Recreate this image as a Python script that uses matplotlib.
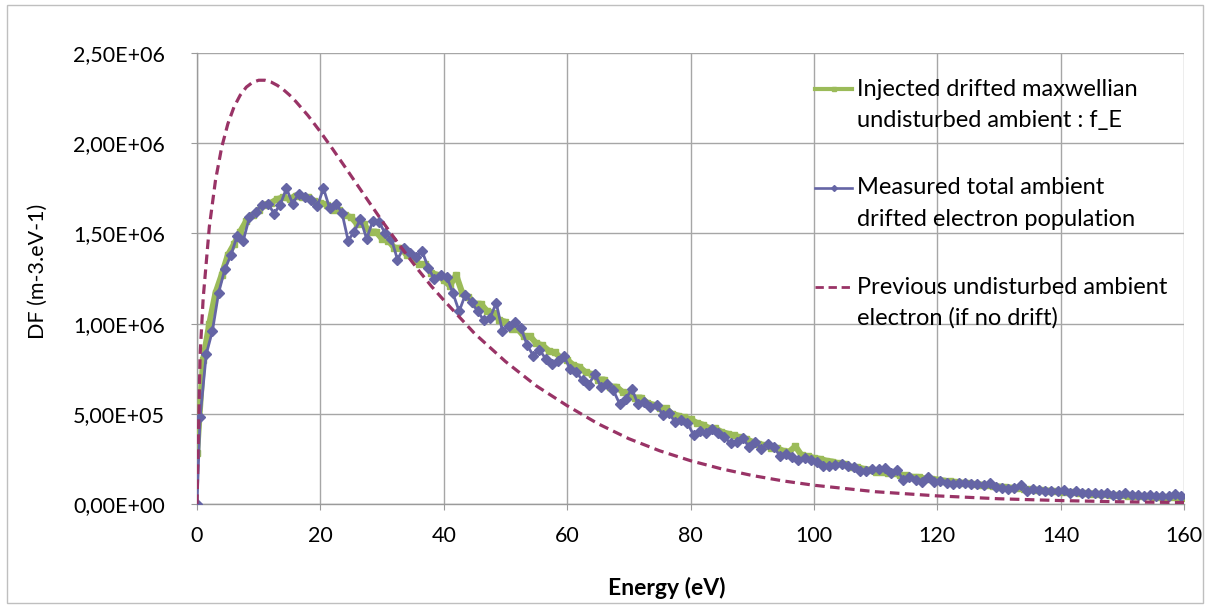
import numpy as np
import matplotlib
matplotlib.use("Agg")
import matplotlib.pyplot as plt
from matplotlib.ticker import FuncFormatter, MultipleLocator
from matplotlib.lines import Line2D
from matplotlib.patches import Rectangle

plt.rcParams['font.family'] = ['Lato', 'DejaVu Sans']

# injected drifted maxwellian (green), 1 eV grid 0..160, values in 1E6 m-3.eV-1
energy_injected = np.arange(0, 161, 1)
df_injected = [
    0.28, 0.80, 1.00, 1.17, 1.27, 1.38, 1.44, 1.51, 1.57, 1.60,
    1.63, 1.66, 1.67, 1.69, 1.70, 1.69, 1.71, 1.70, 1.70, 1.68,
    1.67, 1.66, 1.63, 1.63, 1.60, 1.59, 1.55, 1.55, 1.51, 1.51,
    1.47, 1.46, 1.42, 1.42, 1.38, 1.37, 1.33, 1.33, 1.28, 1.27,
    1.24, 1.21, 1.27, 1.17, 1.15, 1.11, 1.11, 1.07, 1.06, 1.02,
    1.01, 0.97, 0.97, 0.93, 0.93, 0.89, 0.88, 0.85, 0.84, 0.81,
    0.80, 0.77, 0.76, 0.73, 0.72, 0.69, 0.69, 0.65, 0.65, 0.62,
    0.61, 0.59, 0.59, 0.56, 0.55, 0.53, 0.53, 0.50, 0.49, 0.48,
    0.47, 0.45, 0.44, 0.42, 0.42, 0.40, 0.39, 0.38, 0.37, 0.36,
    0.345, 0.335, 0.325, 0.31, 0.31, 0.295, 0.29, 0.32, 0.27, 0.265,
    0.255, 0.25, 0.24, 0.235, 0.225, 0.22, 0.205, 0.205, 0.195, 0.19,
    0.18, 0.18, 0.17, 0.17, 0.16, 0.16, 0.15, 0.15, 0.14, 0.14,
    0.135, 0.13, 0.125, 0.122, 0.118, 0.115, 0.11, 0.108, 0.103, 0.10,
    0.097, 0.094, 0.09, 0.088, 0.085, 0.082, 0.079, 0.077, 0.074, 0.072,
    0.069, 0.067, 0.064, 0.062, 0.06, 0.058, 0.056, 0.054, 0.052, 0.05,
    0.049, 0.047, 0.045, 0.044, 0.042, 0.041, 0.039, 0.038, 0.037, 0.035,
    0.034,
]

# measured total ambient population (blue): 0, then bin centres 0.5..159.5
energy_measured = np.concatenate([[0.0], np.arange(0.5, 160, 1)])
df_measured = [
    0.0,
    0.48, 0.83, 0.96, 1.17, 1.30, 1.38, 1.485, 1.46, 1.59, 1.62,
    1.655, 1.665, 1.61, 1.66, 1.75, 1.665, 1.72, 1.70, 1.685, 1.65,
    1.75, 1.64, 1.665, 1.615, 1.46, 1.51, 1.58, 1.47, 1.57, 1.565,
    1.50, 1.47, 1.355, 1.42, 1.39, 1.37, 1.40, 1.31, 1.245, 1.27,
    1.26, 1.167, 1.068, 1.161, 1.118, 1.068, 1.018, 1.031, 1.115, 0.961,
    0.985, 1.007, 0.976, 0.883, 0.822, 0.856, 0.806, 0.778, 0.791, 0.819,
    0.748, 0.731, 0.685, 0.661, 0.722, 0.648, 0.665, 0.630, 0.556, 0.582,
    0.638, 0.553, 0.568, 0.537, 0.55, 0.494, 0.507, 0.452, 0.467, 0.448,
    0.383, 0.402, 0.393, 0.417, 0.396, 0.37, 0.337, 0.346, 0.365, 0.315,
    0.346, 0.307, 0.33, 0.315, 0.267, 0.276, 0.263, 0.244, 0.254, 0.244,
    0.235, 0.211, 0.211, 0.217,
    0.222, 0.211, 0.204, 0.185, 0.185, 0.193, 0.193, 0.198, 0.174, 0.189,
    0.133, 0.148, 0.133, 0.124, 0.148, 0.124, 0.130, 0.119, 0.111, 0.119,
    0.119, 0.111, 0.111, 0.106, 0.115, 0.093, 0.087, 0.081, 0.087, 0.106,
    0.074, 0.081, 0.078, 0.074, 0.074, 0.074, 0.078, 0.063, 0.070, 0.063,
    0.063, 0.059, 0.054, 0.059, 0.050, 0.050, 0.059, 0.048, 0.050, 0.044,
    0.048, 0.044, 0.044, 0.044, 0.054, 0.046,
]

# previous undisturbed ambient electron (dashed)
energy_previous = [0, 0.5, 1, 2, 3, 4, 5, 6, 7, 8, 9, 10, 11, 12, 13, 14, 15, 16,
                   18, 20, 22, 24, 26, 28, 30, 32, 34, 36, 38, 40, 45, 50, 55, 60,
                   65, 70, 75, 80, 85, 90, 95, 100, 110, 120, 130, 140, 150, 160]
df_previous = [0.0, 0.825, 1.14, 1.537, 1.795, 1.977, 2.107, 2.201, 2.266, 2.311,
               2.337, 2.349, 2.349, 2.339, 2.321, 2.297, 2.267, 2.232,
               2.153, 2.063, 1.967, 1.868, 1.768, 1.668, 1.569, 1.474, 1.381,
               1.292, 1.207, 1.13, 0.945, 0.79, 0.655, 0.545,
               0.445, 0.362, 0.295, 0.24, 0.195, 0.158, 0.128, 0.104,
               0.068, 0.045, 0.029, 0.019, 0.012, 0.008]

labels = [
    ["Injected drifted maxwellian", "undisturbed ambient : f_E"],
    ["Measured total ambient", "drifted electron population"],
    ["Previous undisturbed ambient", "electron (if no drift)"],
]

GREEN = '#9BBB59'
BLUE = '#6565A5'
MAROON = '#993366'
GRID = '#A6A6A6'
DASH = (0, (3.0, 1.7))

fig = plt.figure(figsize=(12.1, 6.06), dpi=100)
ax = fig.add_axes([197 / 1210, 1 - 504 / 606, 987 / 1210, 451 / 606])

scale = 1e6
ax.plot(energy_injected, np.array(df_injected) * scale, color=GREEN, lw=4.4,
        marker='s', ms=4.8, mec=GREEN, mfc=GREEN, zorder=3)
ax.plot(energy_measured, np.array(df_measured) * scale, color=BLUE, lw=2.0,
        marker='D', ms=5.0, mec=BLUE, mfc=BLUE, zorder=4)
ax.plot(energy_previous, np.array(df_previous) * scale, color=MAROON, lw=2.3,
        linestyle=DASH, zorder=5)

ax.set_xlim(0, 160)
ax.set_ylim(0, 2.5e6)
ax.xaxis.set_major_locator(MultipleLocator(20))
ax.yaxis.set_major_locator(MultipleLocator(5e5))
ax.yaxis.set_major_formatter(FuncFormatter(lambda v, p: f"{v:.2E}".replace('.', ',')))

ax.grid(True, color=GRID, lw=1.0, zorder=0)
ax.set_axisbelow(True)
for s in ['top', 'right']:
    ax.spines[s].set_visible(False)
for s in ['left', 'bottom']:
    ax.spines[s].set_color('#9A9A9A')
    ax.spines[s].set_linewidth(1.0)
ax.tick_params(direction='out', length=4, color='#9A9A9A', labelsize=15)
ax.tick_params(axis='y', pad=19, labelsize=15.5)
ax.tick_params(axis='x', pad=12, labelsize=15.5)

ax.set_xlabel("Energy (eV)", fontsize=16.5, fontweight='bold')
ax.set_ylabel("DF (m-3.eV-1)", fontsize=15.5)
ax.xaxis.set_label_coords((667 - 197) / 987, (504 - 577) / 451)
ax.yaxis.set_label_coords((48 - 197) / 987, (504 - 271) / 451)

# legend, drawn by hand so the key sits on the first text line
def axx(px):
    return (px - 197) / 987

def axy(py):
    return (504 - py) / 451

entries = [
    (89, 121, dict(color=GREEN, lw=3.0, marker='s', ms=3.0)),
    (188, 219, dict(color=BLUE, lw=1.9, marker='D', ms=3.0)),
    (287, 318, dict(color=MAROON, lw=2.0, linestyle=DASH)),
]
for (y1, y2, style), lab in zip(entries, labels):
    ln = Line2D([axx(815), axx(833.5), axx(852)], [axy(y1)] * 3,
                transform=ax.transAxes, **style)
    if 'marker' in style:
        ln.set_markevery([1])
    ax.add_line(ln)
    ax.text(axx(857), axy(y1), lab[0], transform=ax.transAxes, fontsize=17,
            va='center', ha='left')
    ax.text(axx(857), axy(y2), lab[1], transform=ax.transAxes, fontsize=17,
            va='center', ha='left')

fig.patches.append(Rectangle((7 / 1210, 3 / 606), 1196 / 1210, 598 / 606,
                             transform=fig.transFigure, fill=False,
                             edgecolor='#BFBFBF', lw=1.0))

fig.savefig("out.png", dpi=100)
